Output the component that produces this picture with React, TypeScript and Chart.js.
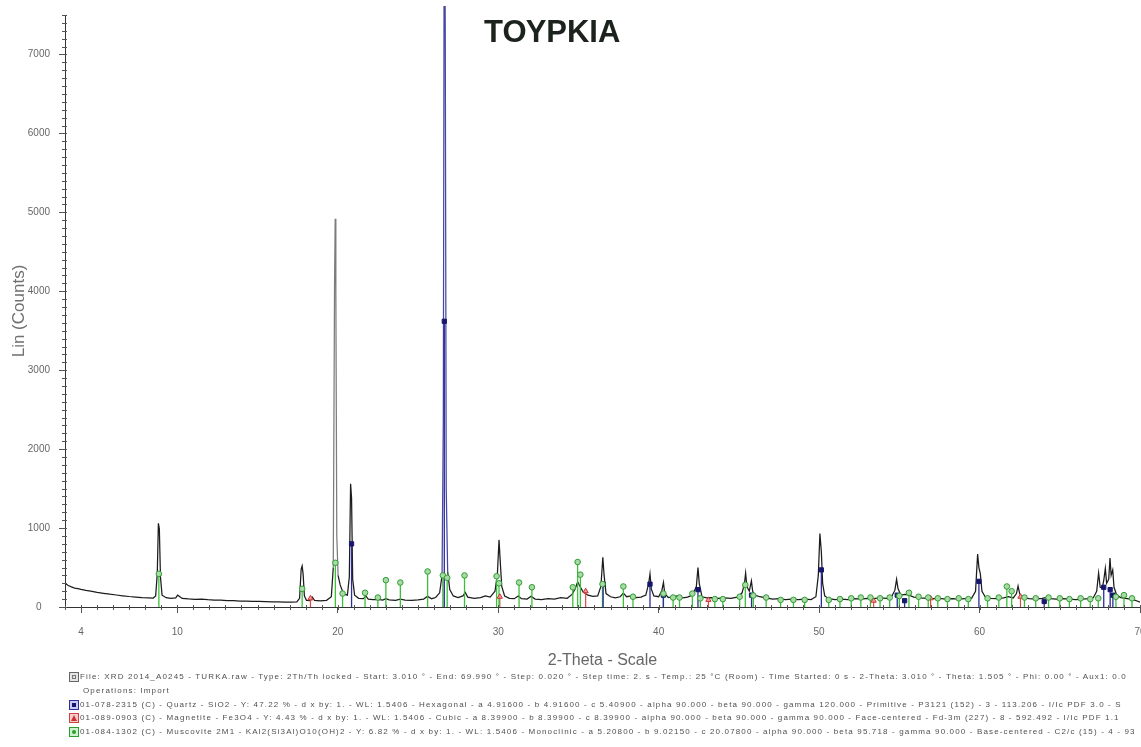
import React, { useEffect, useRef } from "react";
import { Chart, registerables } from "chart.js";

Chart.register(...registerables);

const CHART_TITLE = "ΤΟΥΡΚΙΑ";
const X_TITLE = "2-Theta - Scale";
const Y_TITLE = "Lin (Counts)";

const X_MIN = 3;
const X_MAX = 70;
const Y_MIN = 0;
const Y_MAX = 7500;
const xTickValues = [4, 10, 20, 30, 40, 50, 60, 70];
const yTickValues = [0, 1000, 2000, 3000, 4000, 5000, 6000, 7000];
const X_MINOR_STEP = 1;
const Y_MINOR_STEP = 100;

// measured pattern (2-Theta, counts)
const patternLow: [number, number][] = [
  [3.0, 300], [3.2, 272], [3.4, 255], [3.6, 240], [3.8, 232], [4.0, 222], [4.3, 210], [4.6, 200],
  [5.0, 186], [5.4, 174], [5.8, 162], [6.2, 152], [6.6, 142], [7.0, 133], [7.4, 126], [7.8, 120],
  [8.2, 116], [8.5, 114], [8.65, 140], [8.75, 420], [8.82, 1060], [8.88, 990], [8.95, 380],
  [9.05, 150], [9.3, 118], [9.6, 110], [9.9, 115], [10.02, 150], [10.12, 135], [10.3, 108],
  [10.7, 102], [11.1, 98], [11.5, 100], [11.9, 92], [12.3, 88], [12.7, 86], [13.1, 82], [13.5, 80],
  [13.9, 76], [14.3, 74], [14.7, 72], [15.1, 70], [15.5, 68], [15.9, 66], [16.3, 64], [16.7, 62],
  [17.1, 62], [17.45, 66], [17.62, 110], [17.72, 480], [17.78, 520], [17.84, 420], [17.92, 140],
  [18.05, 85], [18.3, 80], [18.42, 125], [18.55, 85], [18.9, 78], [19.3, 85], [19.6, 130],
];

const patternMid: [number, number][] = [
  [19.72, 500], [19.8, 4100], [19.84, 4920], [19.88, 4070], [19.94, 900], [20.02, 400], [20.15, 280],
  [20.3, 200], [20.45, 160], [20.6, 150], [20.72, 380], [20.8, 1560], [20.86, 1380], [20.93, 350],
  [21.05, 150], [21.3, 110], [21.6, 105], [21.75, 140], [21.9, 100], [22.2, 92], [22.5, 95],
  [22.8, 88], [23.0, 105], [23.2, 90], [23.6, 85], [23.9, 100], [24.2, 88], [24.6, 85], [25.0, 90],
  [25.35, 100], [25.6, 135], [25.85, 105], [26.1, 120], [26.35, 180], [26.5, 400], [26.58, 2400],
  [26.64, 9500], [26.7, 7300], [26.76, 1500], [26.85, 450], [26.98, 220], [27.2, 140], [27.5, 120],
  [27.8, 140], [27.95, 185], [28.1, 125], [28.5, 110], [28.9, 120], [29.2, 140], [29.5, 125],
  [29.8, 200], [29.95, 420], [30.05, 850], [30.12, 600], [30.22, 260], [30.4, 140],
];

const patternHigh: [number, number][] = [
  [30.7, 110], [31.0, 105], [31.25, 140], [31.45, 105], [31.8, 100], [32.05, 135], [32.3, 100],
  [32.7, 95], [33.1, 105], [33.5, 100], [33.9, 120], [34.3, 110], [34.6, 160], [34.8, 230],
  [34.95, 320], [35.1, 260], [35.3, 190], [35.6, 150], [35.9, 135], [36.2, 140], [36.4, 260],
  [36.52, 630], [36.6, 400], [36.72, 170], [37.0, 130], [37.3, 115], [37.6, 130], [37.8, 175],
  [38.0, 130], [38.3, 140], [38.6, 120], [38.9, 125], [39.2, 150], [39.38, 300], [39.46, 420],
  [39.54, 230], [39.7, 140], [40.0, 130], [40.2, 210], [40.3, 310], [40.38, 170], [40.6, 120],
  [40.9, 130], [41.2, 140], [41.5, 115], [41.8, 125], [42.1, 150], [42.35, 260], [42.45, 500],
  [42.53, 300], [42.7, 130], [43.0, 115], [43.3, 120], [43.7, 110], [44.1, 115], [44.5, 108],
  [44.9, 125], [45.2, 180], [45.35, 300], [45.42, 430], [45.5, 260], [45.65, 200], [45.78, 330],
  [45.86, 200], [46.0, 150], [46.3, 130], [46.7, 115], [47.1, 100], [47.5, 105], [47.9, 95],
];

const patternEnd: [number, number][] = [
  [48.3, 100], [48.7, 95], [49.1, 100], [49.5, 95], [49.8, 130], [49.95, 400], [50.05, 930],
  [50.14, 700], [50.22, 300], [50.35, 140], [50.6, 105], [51.0, 95], [51.4, 100], [51.8, 95],
  [52.2, 105], [52.6, 100], [53.0, 110], [53.4, 105], [53.8, 115], [54.2, 110], [54.5, 125],
  [54.72, 210], [54.83, 350], [54.92, 230], [55.1, 150], [55.35, 160], [55.6, 150], [55.9, 125],
  [56.3, 115], [56.7, 110], [57.1, 105], [57.5, 110], [57.9, 100], [58.3, 105], [58.7, 100],
  [59.1, 105], [59.5, 110], [59.75, 200], [59.88, 670], [59.96, 500], [60.05, 420], [60.15, 200],
  [60.35, 130], [60.7, 110], [61.1, 105], [61.5, 115], [61.8, 130], [62.1, 115], [62.3, 170],
  [62.4, 265], [62.5, 170], [62.7, 115], [63.1, 105], [63.5, 100], [63.9, 110], [64.1, 120],
  [64.4, 105], [64.8, 100], [65.2, 105], [65.6, 100], [66.0, 95], [66.4, 100], [66.8, 105],
  [67.1, 120], [67.3, 200], [67.42, 430], [67.52, 250], [67.65, 240], [67.75, 350], [67.84, 490],
  [67.92, 300], [68.05, 350], [68.13, 620], [68.2, 400], [68.3, 470], [68.38, 250], [68.55, 150],
  [68.8, 120], [69.1, 110], [69.4, 100], [69.7, 85], [70.0, 60],
];

// reference phase sticks (2-Theta, scaled intensity)
const quartzSticks: [number, number][] = [
  [20.86, 800], [26.64, 3620], [36.54, 290], [39.46, 290], [40.29, 150], [42.45, 220],
  [45.79, 150], [50.14, 470], [54.87, 150], [55.33, 80], [59.96, 325], [64.03, 70],
  [67.74, 250], [68.14, 220], [68.31, 150],
];

const magnetiteSticks: [number, number][] = [
  [18.3, 110], [30.1, 130], [35.45, 200], [43.1, 90], [53.4, 80], [56.95, 110], [62.55, 130],
];

const muscoviteSticks: [number, number][] = [
  [8.85, 420], [17.78, 230], [19.85, 560], [20.3, 170], [21.7, 180], [22.5, 120], [23.0, 340],
  [23.9, 310], [25.6, 450], [26.55, 400], [26.82, 370], [27.9, 400], [29.9, 390], [30.05, 300],
  [31.3, 310], [32.1, 250], [34.65, 250], [34.95, 570], [35.12, 410], [36.5, 290], [37.8, 260],
  [38.4, 130], [40.3, 170], [40.9, 120], [41.3, 120], [42.1, 170], [42.6, 110], [43.5, 100],
  [44.0, 100], [45.05, 130], [45.4, 280], [45.9, 145], [46.7, 120], [47.6, 90], [48.4, 90],
  [49.1, 90], [50.6, 90], [51.3, 100], [52.0, 110], [52.6, 120], [53.2, 120], [53.8, 110],
  [54.4, 120], [55.0, 140], [55.6, 180], [56.2, 130], [56.8, 120], [57.4, 110], [58.0, 100],
  [58.7, 110], [59.3, 100], [60.5, 110], [61.2, 120], [61.7, 260], [62.0, 200], [62.8, 120],
  [63.5, 110], [64.3, 120], [65.0, 110], [65.6, 100], [66.3, 110], [66.9, 100], [67.4, 110],
  [68.5, 130], [69.0, 150], [69.5, 110],
];

const legendLines = [
  "File: XRD 2014_A0245 - TURKA.raw - Type: 2Th/Th locked - Start: 3.010 ° - End: 69.990 ° - Step: 0.020 ° - Step time: 2. s - Temp.: 25 °C (Room) - Time Started: 0 s - 2-Theta: 3.010 ° - Theta: 1.505 ° - Phi: 0.00 ° - Aux1: 0.0",
  "Operations: Import",
  "01-078-2315 (C) - Quartz - SiO2 - Y: 47.22 % - d x by: 1. - WL: 1.5406 - Hexagonal - a 4.91600 - b 4.91600 - c 5.40900 - alpha 90.000 - beta 90.000 - gamma 120.000 - Primitive - P3121 (152) - 3 - 113.206 - I/Ic PDF 3.0 - S",
  "01-089-0903 (C) - Magnetite - Fe3O4 - Y: 4.43 % - d x by: 1. - WL: 1.5406 - Cubic - a 8.39900 - b 8.39900 - c 8.39900 - alpha 90.000 - beta 90.000 - gamma 90.000 - Face-centered - Fd-3m (227) - 8 - 592.492 - I/Ic PDF 1.1",
  "01-084-1302 (C) - Muscovite 2M1 - KAl2(Si3Al)O10(OH)2 - Y: 6.82 % - d x by: 1. - WL: 1.5406 - Monoclinic - a 5.20800 - b 9.02150 - c 20.07800 - alpha 90.000 - beta 95.718 - gamma 90.000 - Base-centered - C2/c (15) - 4 - 93",
];

const FONT = '"Liberation Sans", Arial, sans-serif';
const LEGEND_ROW_Y = [677, 691, 705, 718, 732];
const LEGEND_TEXT_X = [80, 83, 80, 80, 80];

const toPoints = (arr: [number, number][]) => arr.map(([x, y]) => ({ x, y }));
const stickPoints = (arr: [number, number][]) =>
  arr.flatMap(([x, y]) => [{ x, y: 0 }, { x, y }, { x, y: null as any }]);

const minorTicks = {
  id: "minorTicks",
  afterDraw(chart: any) {
    const { ctx, chartArea, scales } = chart;
    const xs = scales.x;
    const ys = scales.y;
    ctx.save();
    ctx.strokeStyle = "#555";
    ctx.lineWidth = 1;
    ctx.beginPath();
    for (let v = X_MIN; v <= X_MAX; v += X_MINOR_STEP) {
      const px = Math.round(xs.getPixelForValue(v)) + 0.5;
      ctx.moveTo(px, chartArea.bottom - 2);
      ctx.lineTo(px, chartArea.bottom + 3);
    }
    for (let v = Y_MIN; v <= Y_MAX; v += Y_MINOR_STEP) {
      const py = Math.round(ys.getPixelForValue(v)) + 0.5;
      ctx.moveTo(chartArea.left - 3, py);
      ctx.lineTo(chartArea.left + 2, py);
    }
    ctx.stroke();
    ctx.restore();
  },
};

export default function App() {
  const canvasRef = useRef<HTMLCanvasElement | null>(null);
  const rowRefs = useRef<(HTMLDivElement | null)[]>([]);

  useEffect(() => {
    // fit legend letter spacing to the reference width of the first line
    const mctx = document.createElement("canvas").getContext("2d");
    if (mctx) {
      mctx.font = `8px ${FONT}`;
      const w = mctx.measureText(legendLines[0]).width;
      const ls = (1048 - w) / legendLines[0].length;
      rowRefs.current.forEach((el) => {
        if (el) el.style.letterSpacing = `${ls}px`;
      });
    }

    const canvas = canvasRef.current;
    if (!canvas) return;
    Chart.defaults.font.family = FONT;

    const chart = new Chart(canvas, {
      type: "line",
      data: {
        datasets: [
          {
            label: "pattern",
            data: toPoints([...patternLow, ...patternMid, ...patternHigh, ...patternEnd]),
            borderColor: "#1c1c1c",
            borderWidth: 1.25,
            pointRadius: 0,
            tension: 0,
            order: 3,
            clip: { left: 0, top: 9, right: 0, bottom: 0 } as any,
            segment: {
              borderColor: (c: any) => {
                const x = c.p0.parsed.x;
                if (x >= 26.5 && x < 26.8) return "#4646a6";
                if (x >= 19.7 && x < 19.95) return "#7c7c7c";
                return undefined;
              },
            },
          } as any,
          {
            label: "Muscovite sticks",
            data: stickPoints(muscoviteSticks),
            borderColor: "#3cbf3c",
            borderWidth: 1.3,
            pointRadius: 0,
            spanGaps: false,
            order: 2,
          },
          {
            label: "Magnetite sticks",
            data: stickPoints(magnetiteSticks),
            borderColor: "#e04848",
            borderWidth: 1.2,
            pointRadius: 0,
            spanGaps: false,
            order: 2,
          },
          {
            label: "Quartz sticks",
            data: stickPoints(quartzSticks),
            borderColor: "#2c2c9c",
            borderWidth: 1.3,
            pointRadius: 0,
            spanGaps: false,
            order: 1,
          },
          {
            type: "scatter",
            label: "Muscovite",
            data: toPoints(muscoviteSticks),
            pointStyle: "circle",
            pointRadius: 2.8,
            backgroundColor: "#a9d9a9",
            borderColor: "#2e9e2e",
            borderWidth: 1,
            showLine: false,
            order: 0,
          } as any,
          {
            type: "scatter",
            label: "Magnetite",
            data: toPoints(magnetiteSticks),
            pointStyle: "triangle",
            pointRadius: 3,
            backgroundColor: "#f0a0a0",
            borderColor: "#d03030",
            borderWidth: 1,
            showLine: false,
            order: 0,
          } as any,
          {
            type: "scatter",
            label: "Quartz",
            data: toPoints(quartzSticks),
            pointStyle: "rect",
            pointRadius: 3,
            backgroundColor: "#16166e",
            borderColor: "#16166e",
            borderWidth: 1,
            showLine: false,
            order: 0,
          } as any,
        ],
      },
      options: {
        animation: false,
        responsive: false,
        devicePixelRatio: 1,
        events: [],
        layout: { padding: { left: 0, right: 20, top: 9, bottom: 77 } },
        plugins: {
          legend: { display: false },
          tooltip: { enabled: false },
          title: { display: false },
        },
        scales: {
          x: {
            type: "linear",
            min: X_MIN,
            max: X_MAX,
            offset: false,
            afterBuildTicks: (s: any) => {
              s.ticks = xTickValues.map((value) => ({ value }));
            },
            afterFit: (s: any) => {
              s.height = 63;
            },
            ticks: {
              autoSkip: false,
              maxRotation: 0,
              minRotation: 0,
              color: "#666",
              font: { size: 10 },
              padding: 13,
              callback: (v: any) => String(v),
            },
            grid: { display: true, drawOnChartArea: false, drawTicks: true, tickLength: 6, color: "#555" },
            border: { display: true, color: "#333", width: 1 },
            title: {
              display: true,
              text: X_TITLE,
              color: "#666",
              font: { size: 16 },
              padding: { top: 0, bottom: 0 },
            },
          },
          y: {
            type: "linear",
            min: Y_MIN,
            max: Y_MAX,
            afterBuildTicks: (s: any) => {
              s.ticks = yTickValues.map((value) => ({ value }));
            },
            afterFit: (s: any) => {
              s.width = 65;
            },
            ticks: {
              color: "#666",
              font: { size: 10 },
              padding: 9,
              crossAlign: "center",
              callback: (v: any) => String(v),
            },
            grid: { display: true, drawOnChartArea: false, drawTicks: true, tickLength: 6, color: "#555" },
            border: { display: true, color: "#333", width: 1 },
            title: {
              display: true,
              text: Y_TITLE,
              color: "#707070",
              font: { size: 17 },
              padding: { top: 9, bottom: 0 },
            },
          },
        },
      } as any,
      plugins: [minorTicks],
    });

    return () => chart.destroy();
  }, []);

  const iconBase: React.CSSProperties = {
    position: "absolute",
    left: 69,
    width: 8,
    height: 8,
    boxSizing: "content-box",
  };

  return (
    <div
      style={{
        position: "absolute",
        left: 0,
        top: 0,
        width: 1141,
        height: 747,
        overflow: "hidden",
        background: "#fff",
        fontFamily: FONT,
      }}
    >
      <canvas
        ref={canvasRef}
        width={1160}
        height={747}
        style={{ position: "absolute", left: 0, top: 0, width: 1160, height: 747 }}
      />
      <div
        style={{
          position: "absolute",
          left: 484,
          top: 16,
          fontSize: 31,
          lineHeight: "31px",
          fontWeight: "bold",
          color: "#1c231c",
          whiteSpace: "nowrap",
        }}
      >
        {CHART_TITLE}
      </div>

      {/* legend icons */}
      <div style={{ ...iconBase, top: LEGEND_ROW_Y[0] - 5, border: "1px solid #666", background: "#e4e4e4" }}>
        <div style={{ position: "absolute", left: 2, top: 2, width: 4, height: 4, border: "1px solid #777", boxSizing: "border-box" }} />
      </div>
      <div style={{ ...iconBase, top: LEGEND_ROW_Y[2] - 5, border: "1px solid #2c2c9c", background: "#c9c9f2" }}>
        <div style={{ position: "absolute", left: 2, top: 2, width: 4, height: 4, background: "#16166e" }} />
      </div>
      <div style={{ ...iconBase, top: LEGEND_ROW_Y[3] - 5, border: "1px solid #d04040", background: "#f6cccc" }}>
        <div
          style={{
            position: "absolute",
            left: 1,
            top: 1,
            width: 0,
            height: 0,
            borderLeft: "3px solid transparent",
            borderRight: "3px solid transparent",
            borderBottom: "6px solid #d03030",
          }}
        />
      </div>
      <div style={{ ...iconBase, top: LEGEND_ROW_Y[4] - 5, border: "1px solid #2e9e2e", background: "#cdf0cd" }}>
        <div style={{ position: "absolute", left: 2, top: 2, width: 4, height: 4, borderRadius: 2, background: "#2e9e2e" }} />
      </div>

      {legendLines.map((line, i) => (
        <div
          key={i}
          ref={(el) => {
            rowRefs.current[i] = el;
          }}
          style={{
            position: "absolute",
            left: LEGEND_TEXT_X[i],
            top: LEGEND_ROW_Y[i] - 5,
            width: 1135 - LEGEND_TEXT_X[i],
            height: 10,
            overflow: "hidden",
            whiteSpace: "nowrap",
            fontSize: 8,
            lineHeight: "10px",
            color: "#505050",
          }}
        >
          {line}
        </div>
      ))}
    </div>
  );
}
